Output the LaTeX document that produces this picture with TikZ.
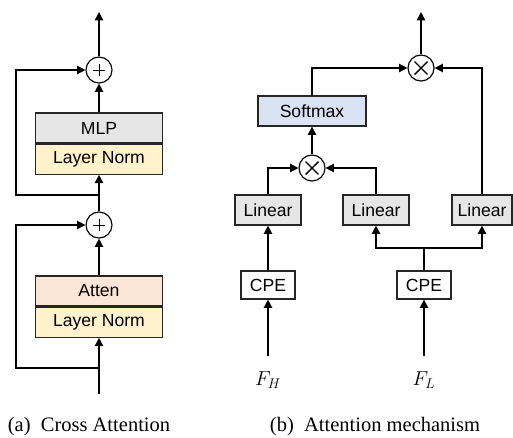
\documentclass[tikz,border=0pt]{standalone}
\usepackage{fontspec}
\setmainfont{Liberation Serif}
\newfontfamily\boxfont{Liberation Sans}
\usetikzlibrary{arrows.meta}

\definecolor{mlpgray}{RGB}{231,230,230}
\definecolor{normyellow}{RGB}{255,242,204}
\definecolor{attnpink}{RGB}{251,229,214}
\definecolor{softblue}{RGB}{218,227,243}

\tikzset{
    blk/.style={draw=black!85, line width=1pt, minimum height=0.9cm, inner sep=0pt,
        font=\boxfont\fontsize{15}{18}\selectfont},
    cpe/.style={blk, fill=white, minimum width=1.62cm, minimum height=0.84cm},
    flow/.style={line width=1.2pt, -{Triangle[length=2.5mm,width=2.5mm]}},
    feat/.style={font=\fontsize{18.5}{22}\selectfont, inner sep=1pt},
    opc/.style={circle, draw, line width=1pt, minimum size=0.78cm, inner sep=0pt},
    addop/.style={opc, path picture={
        \draw[line width=0.7pt] ([xshift=-5.5pt]path picture bounding box.center) -- ([xshift=5.5pt]path picture bounding box.center);
        \draw[line width=0.7pt] ([yshift=-5.5pt]path picture bounding box.center) -- ([yshift=5.5pt]path picture bounding box.center);}},
    mulop/.style={opc, path picture={
        \draw[line width=1.2pt] ([shift={(-5.5pt,-5.5pt)}]path picture bounding box.center) -- ([shift={(5.5pt,5.5pt)}]path picture bounding box.center);
        \draw[line width=1.2pt] ([shift={(-5.5pt,5.5pt)}]path picture bounding box.center) -- ([shift={(5.5pt,-5.5pt)}]path picture bounding box.center);}},
}

\begin{document}
\begin{tikzpicture}[x=0.03cm, y=-0.03cm]
    \useasboundingbox (0,0) rectangle (513,437);

    % Cross attention block
    \node[blk, fill=mlpgray, minimum width=3.81cm] (mlp) at (99,128) {MLP};
    \node[blk, fill=normyellow, minimum width=3.81cm, anchor=north] (normA) at (mlp.south) {Layer Norm};
    \node[blk, fill=attnpink, minimum width=3.81cm] (atten) at (99,291) {Atten};
    \node[blk, fill=normyellow, minimum width=3.81cm, anchor=north] (normB) at (atten.south) {Layer Norm};
    \node[addop] (addA) at (99,70) {};
    \node[addop] (addB) at (99,225) {};
    \coordinate (outA) at (99,12);
    \coordinate (inA) at (99,394);
    \coordinate (skipA) at (99,195);
    \coordinate (skipB) at (99,368);

    \draw[flow] (inA) -- (normB);
    \draw[flow] (skipB) -- (16,368) |- (addB);
    \draw[flow] (atten) -- (addB);
    \draw[flow] (addB) -- (normA);
    \draw[flow] (skipA) -- (16,195) |- (addA);
    \draw[flow] (mlp) -- (addA);
    \draw[flow] (addA) -- (outA);

    \node[font=\fontsize{17.5}{20}\selectfont] (capA) at (89,427) {(a)\enspace Cross Attention};

    % Attention mechanism
    \node[mulop] (mulA) at (421,68) {};
    \node[blk, fill=softblue, minimum width=3.24cm] (soft) at (312,111) {Softmax};
    \node[mulop] (mulB) at (312,168) {};
    \node[blk, fill=mlpgray, minimum width=1.98cm] (linH) at (268,210) {Linear};
    \node[blk, fill=mlpgray, minimum width=1.98cm] (linM) at (376,210) {Linear};
    \node[blk, fill=mlpgray, minimum width=1.8cm] (linR) at (482,210) {Linear};
    \node[cpe] (cpeH) at (268,285) {CPE};
    \node[cpe] (cpeL) at (424,285) {CPE};
    \coordinate (srcH) at (268,356);
    \coordinate (srcL) at (424,356);
    \node[feat, below=12.5pt] (fH) at (srcH) {$F_H$};
    \node[feat, below=12.5pt] (fL) at (srcL) {$F_L$};
    \coordinate (split) at (424,248);
    \coordinate (outB) at (421,12);

    \draw[flow] (srcH) -- (cpeH);
    \draw[flow] (srcL) -- (cpeL);
    \draw[flow] (cpeH) -- (linH);
    \draw[line width=1.2pt] (cpeL) -- (split);
    \draw[flow] (split) -| (linM);
    \draw[flow] (split) -| (linR);
    \draw[flow] (linH) |- (mulB);
    \draw[flow] (linM) |- (mulB);
    \draw[flow] (mulB) -- (soft);
    \draw[flow] (soft) |- (mulA);
    \draw[flow] (linR) |- (mulA);
    \draw[flow] (mulA) -- (outB);

    \node[font=\fontsize{17.5}{20}\selectfont] (capB) at (375,427) {(b)\enspace Attention mechanism};
\end{tikzpicture}
\end{document}
